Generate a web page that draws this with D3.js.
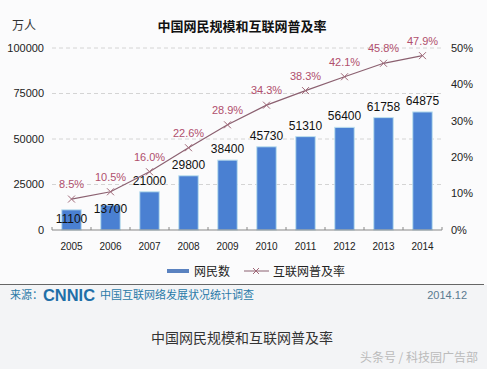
<!DOCTYPE html>
<html><head><meta charset="utf-8">
<script src="https://cdn.jsdelivr.net/npm/d3@7"></script>
<style>
html,body{margin:0;padding:0;background:#f4f5f7;}
svg{display:block;font-family:"Liberation Sans","Noto Sans CJK SC",sans-serif;}
.cjk{font-family:"Noto Sans CJK SC",sans-serif;}
</style></head>
<body>
<svg id="chart" width="487" height="369"></svg>
<script>
const years = ["2005","2006","2007","2008","2009","2010","2011","2012","2013","2014"];
const netizens = [11100,13700,21000,29800,38400,45730,51310,56400,61758,64875];
const rates = [8.5,10.5,16.0,22.6,28.9,34.3,38.3,42.1,45.8,47.9];
const leftTicks = [0,25000,50000,75000,100000];
const rightTicks = [0,10,20,30,40,50];
const title = "中国网民规模和互联网普及率";
const legendLabels = ["网民数","互联网普及率"];
const sourceText = "中国互联网络发展状况统计调查";
const dateText = "2014.12";
const caption = "中国网民规模和互联网普及率";
const credit = "头条号 / 科技园广告部";

const svg = d3.select("#chart");
svg.append("rect").attr("x",0).attr("y",0).attr("width",487).attr("height",285).attr("fill","#fbfbfc");
svg.append("rect").attr("x",0).attr("y",285).attr("width",487).attr("height",84).attr("fill","#f3f4f6");

const m = {left:52, right:442, top:48, bottom:230};
const x = d3.scaleBand().domain(years).range([m.left,m.right]).paddingInner(0.5).paddingOuter(0.25);
const yL = d3.scaleLinear().domain([0,100000]).range([m.bottom,m.top]);
const yR = d3.scaleLinear().domain([0,50]).range([m.bottom,m.top]);

svg.append("g").selectAll("line").data(leftTicks.filter(d=>d>0)).join("line")
  .attr("x1",m.left).attr("x2",m.right).attr("y1",d=>yL(d)).attr("y2",d=>yL(d))
  .attr("stroke","#d4d4d4").attr("stroke-dasharray","4,3");

svg.append("g").selectAll("text").data(leftTicks).join("text")
  .attr("x",44).attr("y",d=>yL(d)).attr("dy","0.35em").attr("text-anchor","end")
  .attr("font-size",11).attr("fill","#222").text(d=>d);
svg.append("g").selectAll("text").data(rightTicks).join("text")
  .attr("x",451).attr("y",d=>yR(d)).attr("dy","0.35em").attr("text-anchor","start")
  .attr("font-size",11).attr("fill","#222").text(d=>d+"%");

svg.append("text").attr("class","cjk").attr("x",12).attr("y",30).attr("font-size",12).attr("fill","#333").text("万人");
svg.append("text").attr("class","cjk").attr("x",242).attr("y",31).attr("text-anchor","middle")
  .attr("font-size",13).attr("font-weight","bold").attr("fill","#111").text(title);

svg.append("g").selectAll("rect").data(netizens).join("rect")
  .attr("x",(d,i)=>x(years[i])).attr("width",x.bandwidth())
  .attr("y",d=>yL(d)).attr("height",d=>m.bottom-yL(d))
  .attr("fill","#4a80d2").attr("stroke","#bfe0ee").attr("stroke-width",1);

const xb = svg.append("g");
xb.append("line").attr("x1",m.left).attr("x2",m.right).attr("y1",m.bottom).attr("y2",m.bottom).attr("stroke","#888");
const bounds = years.map(y=>x(y)-(x.step()-x.bandwidth())/2).concat([m.right]);
xb.selectAll("line.t").data(bounds).join("line").attr("class","t")
  .attr("x1",d=>d).attr("x2",d=>d).attr("y1",m.bottom).attr("y2",m.bottom-3).attr("stroke","#888");
xb.selectAll("text").data(years).join("text")
  .attr("x",d=>x(d)+x.bandwidth()/2).attr("y",250).attr("text-anchor","middle")
  .attr("font-size",10).attr("fill","#222").text(d=>d);

const cx = i => x(years[i])+x.bandwidth()/2;
svg.append("g").selectAll("text").data(netizens).join("text")
  .attr("x",(d,i)=>cx(i))
  .attr("y",(d,i)=> i===0 ? yL(d)+13 : (i===1 ? yL(d)+8 : yL(d)-7))
  .attr("text-anchor","middle").attr("font-size",12).attr("fill","#111").text(d=>d);

const line = d3.line().x((d,i)=>cx(i)).y(d=>yR(d));
svg.append("path").datum(rates).attr("d",line).attr("fill","none").attr("stroke","#8b6070").attr("stroke-width",1.2);
const mk = svg.append("g");
rates.forEach((d,i)=>{
  const px=cx(i), py=yR(d), s=3.5;
  mk.append("path").attr("d",`M${px-s},${py-s}L${px+s},${py+s}M${px-s},${py+s}L${px+s},${py-s}`)
    .attr("stroke","#a06878").attr("stroke-width",1);
});
svg.append("g").selectAll("text").data(rates).join("text")
  .attr("x",(d,i)=>cx(i)).attr("y",d=>yR(d)-11)
  .attr("text-anchor","middle").attr("font-size",11).attr("fill","#b04f6c").text(d=>d.toFixed(1)+"%");

const lg = svg.append("g");
lg.append("rect").attr("x",167).attr("y",269).attr("width",22).attr("height",4).attr("fill","#5a82c0");
lg.append("text").attr("class","cjk").attr("x",194).attr("y",275.5).attr("font-size",12).attr("fill","#222").text(legendLabels[0]);
lg.append("line").attr("x1",244).attr("x2",269).attr("y1",271).attr("y2",271).attr("stroke","#8b6070");
lg.append("path").attr("d","M253,268L259,274M253,274L259,268").attr("stroke","#a06878");
lg.append("text").attr("class","cjk").attr("x",273).attr("y",275.5).attr("font-size",12).attr("fill","#222").text(legendLabels[1]);

svg.append("line").attr("x1",0).attr("x2",484).attr("y1",284.5).attr("y2",284.5).attr("stroke","#666").attr("stroke-width",1);

svg.append("text").attr("class","cjk").attr("x",10).attr("y",299).attr("font-size",11).attr("fill","#2a7aa8").text("来源：");
svg.append("text").attr("x",43).attr("y",301).attr("font-size",16).attr("font-weight","bold")
  .attr("fill","#1f6fa8").attr("textLength",52).attr("lengthAdjust","spacingAndGlyphs").text("CNNIC");
svg.append("text").attr("class","cjk").attr("x",100).attr("y",299).attr("font-size",11).attr("fill","#2a7aa8").text(sourceText);
svg.append("text").attr("x",467).attr("y",299).attr("text-anchor","end").attr("font-size",11).attr("fill","#5a7a90").text(dateText);

svg.append("text").attr("class","cjk").attr("x",242).attr("y",343).attr("text-anchor","middle").attr("font-size",14).attr("fill","#333").text(caption);
svg.append("text").attr("class","cjk").attr("x",478).attr("y",362).attr("text-anchor","end").attr("font-size",12).attr("fill","#bbb").text(credit);
</script>
</body></html>
